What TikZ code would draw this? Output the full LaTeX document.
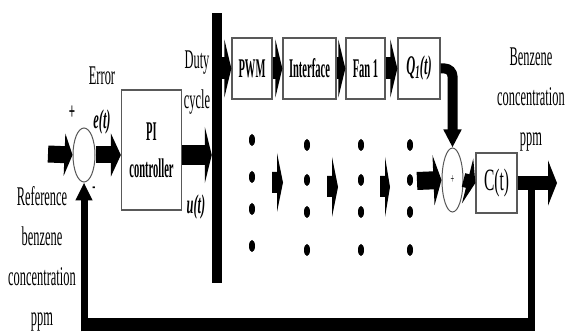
\documentclass[tikz,border=0pt]{standalone}
\usepackage{fontspec}
\setmainfont{Liberation Serif}
\usetikzlibrary{arrows.meta,shapes.geometric,calc}
\newcommand\sq[1]{\scalebox{0.46}[1]{#1}}
\newcommand\sqb[1]{\scalebox{0.39}[1]{#1}}
\begin{document}
\begin{tikzpicture}[x=1pt,y=-1pt,
  lbl/.style={font=\fontsize{27}{40}\selectfont, text=black, inner sep=0, align=center},
  blbl/.style={font=\bfseries\fontsize{27}{37}\selectfont, text=black, inner sep=0, align=center},
  bilbl/.style={font=\bfseries\itshape\fontsize{27}{30}\selectfont, text=black, inner sep=0},
  box/.style={draw=black!65, line width=1.3pt, inner sep=0, fill=white},
  sumj/.style={ellipse, draw=black!65, line width=1pt, inner sep=0},
  fat/.style n args={3}{line width=#1, -{Triangle[length=#3, width=#2]}}
]
\useasboundingbox (0,0) rectangle (565,336);
\fill[white] (0,0) rectangle (565,336);

% nodes
\node[sumj, minimum width=22pt, minimum height=54pt] (sum1) at (84,155) {};
\node[box, blbl, minimum width=60pt, minimum height=120pt] (pi) at (151.5,150) {\sqb{PI}\\\sqb{controller}};
\node[fill=black, inner sep=0, minimum width=10pt, minimum height=270pt] (bar) at (217,148) {};
\node[box, blbl, minimum width=40pt, minimum height=61pt] (pwm) at (252,68.5) {\sqb{PWM}};
\node[box, blbl, minimum width=53pt, minimum height=61pt] (iface) at (309.5,68.5) {\sqb{Interface}};
\node[box, blbl, minimum width=39pt, minimum height=61pt] (fan) at (365.5,68.5) {\sqb{Fan 1}};
\node[box, bilbl, minimum width=42pt, minimum height=61pt] (q1) at (419,68.5) {\sq{Q\textsubscript{1}(t)}};
\node[sumj, minimum width=21pt, minimum height=64pt, font=\fontsize{14}{14}\selectfont] (sum2) at (452.5,180) {\sq{+}};
\node[box, lbl, font=\fontsize{31}{31}\selectfont, minimum width=41pt, minimum height=60pt] (ct) at (496.5,183) {\scalebox{0.5}[1]{C(t)}};

% texts
\node[lbl] (error) at (102,76) {\sq{Error}};
\node[bilbl] (et) at (102,122) {\sq{e(t)}};
\node[lbl, font=\bfseries\fontsize{24}{24}\selectfont] (plus) at (72,113) {\sq{+}};
\node[lbl, font=\bfseries\fontsize{20}{20}\selectfont] (minus) at (94,190) {\sq{-}};
\node[lbl] (duty) at (197,83) {\sq{Duty}\\\sq{cycle}};
\node[bilbl] (ut) at (196,207) {\sq{u(t)}};
\node[lbl] (ref) at (42,259) {\sq{Reference}\\\sq{benzene}\\\sq{concentration}\\\sq{ppm}};
\node[lbl] (outlbl) at (531,100) {\sq{Benzene}\\\sq{concentration}\\\sq{ppm}};

% coordinates
\coordinate (in) at (48,154);
\coordinate (dotsout) at (417,181);
\coordinate (out) at (557,183);
\coordinate (tap) at (531,183);
\coordinate (fbr) at (531,325);
\coordinate (fbl) at (sum1.south |- fbr);

% connectors
\draw[fat={17pt}{42pt}{8pt}] (in) -- (sum1.west);
\draw[fat={17pt}{43pt}{10pt}] (sum1.east) -- (pi.west |- sum1.east);
\draw[fat={20pt}{56pt}{7pt}] ($(pi.east)+(0,5)$) -- ($(bar.west |- pi.east)+(0,5)$);
\draw[fat={22pt}{58pt}{7pt}] (bar.east |- pwm.west) -- (pwm.west);
\draw[fat={22pt}{58pt}{7pt}] (pwm.east) -- (iface.west);
\draw[fat={22pt}{58pt}{7pt}] (iface.east) -- (fan.west);
\draw[fat={22pt}{58pt}{7pt}] (fan.east) -- (q1.west);
\draw[line width=10pt, rounded corners=8pt, -{Triangle[length=18pt, width=17pt]}] (q1.east) -| (sum2.north);
\draw[fat={18pt}{50pt}{8pt}] (dotsout) -- (sum2.west);
\draw[fat={14pt}{46pt}{8pt}] (sum2.east) -- (ct.west);
\draw[fat={14pt}{45pt}{9pt}] (ct.east) -- (out);

% small arrows between the dotted columns
\fill (272,172) -- (277,172) -- (277,153) -- (283,182.5) -- (277,212) -- (277,193) -- (272,193) -- cycle;
\fill (327,176) -- (332,176) -- (332,157) -- (338,187) -- (332,217) -- (332,197) -- (327,197) -- cycle;
\fill (380,176) -- (385,176) -- (385,157) -- (390,187) -- (385,217) -- (385,197) -- (380,197) -- cycle;

% feedback
\draw[line width=7pt] (tap) -- ($(fbr)+(0,6.5)$);
\draw[line width=13pt] ($(fbr)+(3.5,0)$) -- ($(fbl)+(-3.5,0)$);
\draw[line width=7pt, -{Triangle[length=18pt, width=16pt]}] ($(fbl)+(0,6.5)$) -- (sum1.south);

% dots
\foreach \y in {140,177,209,246} \fill (252,\y) ellipse (3 and 6);
\foreach \x in {307,361,410} \foreach \y in {145,180,212,250} \fill (\x,\y) ellipse (3 and 6);
\end{tikzpicture}
\end{document}
